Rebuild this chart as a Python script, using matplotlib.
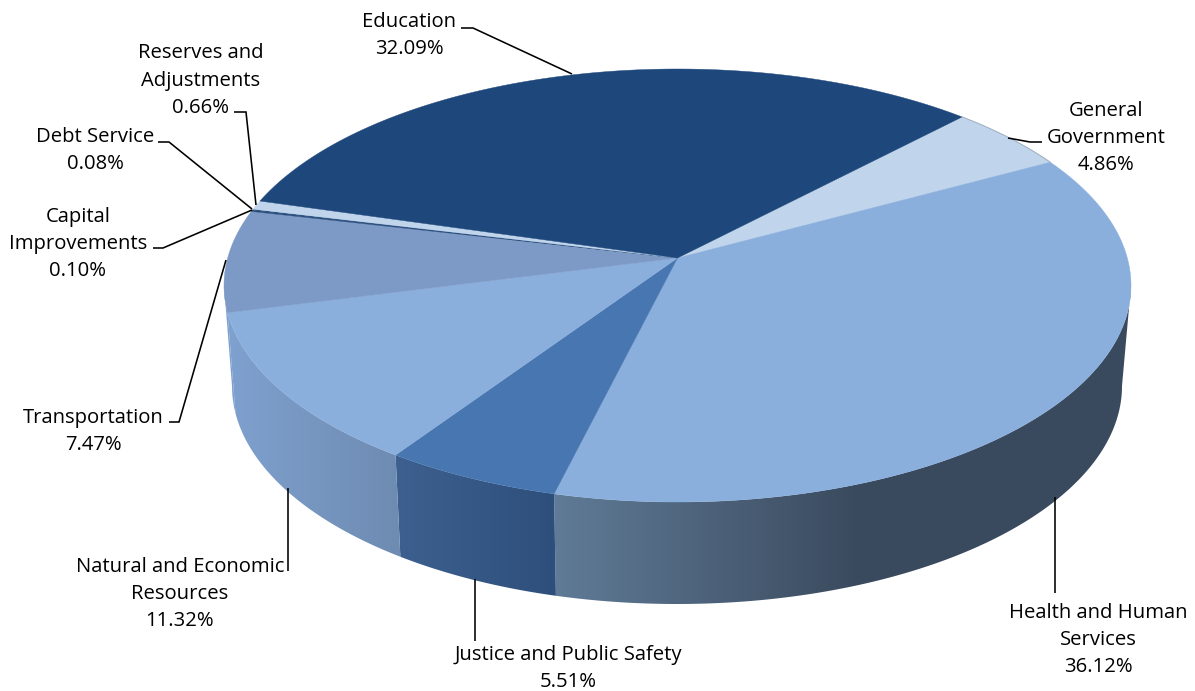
import numpy as np
import matplotlib
matplotlib.use("Agg")
import matplotlib.pyplot as plt
from matplotlib.patches import Polygon

# Budget shares, clockwise from the General Government slice
categories = ["General Government", "Health and Human Services",
              "Justice and Public Safety", "Natural and Economic Resources",
              "Transportation", "Capital Improvements", "Debt Service",
              "Reserves and Adjustments", "Education"]
shares = [4.86, 36.12, 5.51, 11.32, 7.47, 0.10, 0.08, 0.66, 32.09]
top_colors = ["#c0d5ec", "#8aafdd", "#4876b0", "#8aafdd", "#7d99c5",
              "#2c4d7c", "#1e487c", "#c0d5ec", "#1e487c"]
# Rim shading per slice: left colour, right colour, and where the ramp ends
rim_colors = {1: ("#607b97", "#3a4a5e", 860),
              2: ("#3d6090", "#2e4f7b", 556),
              3: ("#7fa1cf", "#6e8bb1", 401),
              4: ("#7fa1cf", "#7fa1cf", 240)}

# Label text, centre x, vertical anchor of the first line
labels = [("Education\n32.09%", 409, 22),
          ("Reserves and\nAdjustments\n0.66%", 201, 53),
          ("Debt Service\n0.08%", 95, 137),
          ("Capital\nImprovements\n0.10%", 78, 216),
          ("Transportation\n7.47%", 93, 418),
          ("Natural and Economic\nResources\n11.32%", 180, 566),
          ("Justice and Public Safety\n5.51%", 568, 654.5),
          ("Health and Human\nServices\n36.12%", 1098, 612),
          ("General\nGovernment\n4.86%", 1106, 110)]
LINE_PITCH = 27.7

leaders = [[(461, 28), (473, 28), (572, 74)],
           [(1008, 138), (1030, 142), (1042, 142)],
           [(1055, 497), (1055, 593)],
           [(475, 579), (475, 641)],
           [(288, 488), (288, 571)],
           [(226, 260), (179, 422), (169, 422)],
           [(252, 210), (163, 248), (153, 248)],
           [(252, 209), (169, 142), (158, 142)],
           [(256, 205), (246, 112), (234, 112)]]

plt.rcParams["font.family"] = ["Open Sans", "DejaVu Sans"]

W, H = 1195, 691
fig = plt.figure(figsize=(W / 100, H / 100), dpi=100)
ax = fig.add_axes([0, 0, 1, 1])

START = 43.7       # clockwise from the far point of the disc, degrees
TILT = -0.127      # foreshortening towards the viewer
CX_TOP, CY_TOP, A_TOP, B_TOP = 677.5, 285.5, 453.5, 216.5
CX_BOT, CY_BOT, A_BOT, B_BOT = 677.0, 386.0, 445.0, 218.0


def project(theta_deg, radius, cx, cy, a, b):
    """Perspective image of a disc point, given the disc's outline ellipse."""
    t = np.radians(theta_deg)
    u, v = radius * np.sin(t), -radius * np.cos(t)
    scale = np.sqrt(1 - TILT ** 2)
    # the image of the disc centre sits above the outline's centre
    apex_y = cy + b * TILT
    # half-height of the projective map chosen so the outline has semi-axis b
    bp = b * (1 - TILT ** 2)
    d = 1 + TILT * v
    return cx + a * scale * u / d, apex_y + bp * v / d


def top_pt(theta, r=1.0):
    return project(theta, r, CX_TOP, CY_TOP, A_TOP, B_TOP)


def bot_pt(theta, r=1.0):
    return project(theta, r, CX_BOT, CY_BOT, A_BOT, B_BOT)


values = np.array(shares, dtype=float)
sweeps = values / values.sum() * 360.0
edges = START + np.concatenate([[0], np.cumsum(sweeps)])

# The rim is visible between the outline's rightmost and leftmost points
sweep_grid = np.linspace(0, 360, 3601)
grid_x, _ = top_pt(sweep_grid)
theta_right, theta_left = sweep_grid[np.argmax(grid_x)], sweep_grid[np.argmin(grid_x)]

# Rim of the slices facing the viewer
for i, (c_left, c_right, ramp_end) in rim_colors.items():
    th0, th1 = max(edges[i], theta_right), min(edges[i + 1], theta_left)
    th = np.linspace(th0, th1, 240)
    xt, yt = top_pt(th)
    xb, yb = bot_pt(th)
    poly = np.column_stack([np.r_[xt, xb[::-1]], np.r_[yt, yb[::-1]]])
    x0, x1 = poly[:, 0].min() - 1, poly[:, 0].max() + 1
    y0, y1 = poly[:, 1].min() - 1, poly[:, 1].max() + 1
    rgb0, rgb1 = (np.array(matplotlib.colors.to_rgb(c)) for c in (c_left, c_right))
    xs = np.linspace(x0, x1, 400)
    f = np.clip((xs - x0) / max(ramp_end - x0, 1), 0, 1)[None, :, None]
    ramp = rgb0[None, None, :] * (1 - f) + rgb1[None, None, :] * f
    im = ax.imshow(ramp, extent=(x0, x1, y1, y0), aspect="auto",
                   interpolation="bilinear", zorder=1)
    clip = Polygon(poly, closed=True, transform=ax.transData, fc="none", ec="none")
    ax.add_patch(clip)
    im.set_clip_path(clip)

# Top face of every slice
for i, color in enumerate(top_colors):
    th = np.linspace(edges[i], edges[i + 1], max(int(sweeps[i] * 2), 3))
    xs, ys = top_pt(th)
    cx, cy = top_pt(0.0, 0.0)
    ax.add_patch(Polygon(np.column_stack([np.r_[cx, xs], np.r_[cy, ys]]),
                         closed=True, fc=color, ec=color, lw=0.3, zorder=2))

# Faint grey edge on the pale General Government arc
arc_x, arc_y = top_pt(np.linspace(edges[0], edges[1], 40))
ax.plot(arc_x, arc_y, color="#9fadbd", lw=0.7, zorder=2.5)

# Leader lines
for path in leaders:
    px, py = zip(*path)
    ax.plot(px, py, color="black", lw=1.15, zorder=3,
            solid_joinstyle="miter", solid_capstyle="butt")

# Category labels with their stated shares
for text, x, y in labels:
    n = text.count("\n")
    ax.text(x, y + n * LINE_PITCH / 2, text, ha="center", va="center",
            fontsize=14.6, color="black", linespacing=1.48, zorder=4)

ax.set_xlim(0, W)
ax.set_ylim(H, 0)
ax.axis("off")
fig.savefig("out.png", dpi=100, facecolor="white")
